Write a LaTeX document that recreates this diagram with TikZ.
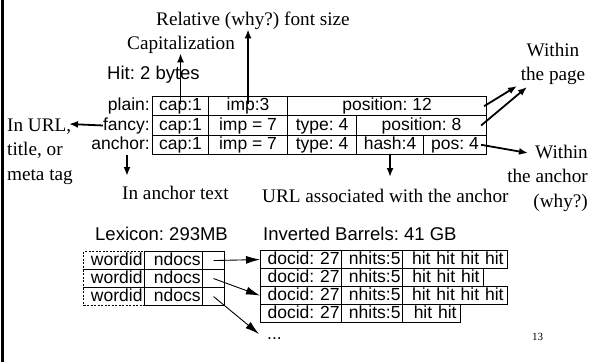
\documentclass[tikz,border=0pt]{standalone}
\usepackage{fontspec}
\setmainfont{Liberation Serif}
\setsansfont{Liberation Sans}
\usetikzlibrary{arrows.meta}
\frenchspacing
\newcommand{\annfont}{\rmfamily\fontsize{19.2}{24.5}\selectfont}
\newcommand{\boxfont}{\sffamily\fontsize{17.5}{20}\selectfont}
\newcommand{\headfont}{\sffamily\fontsize{18.5}{22}\selectfont}
\begin{document}
\begin{tikzpicture}[x=1pt,y=-1pt,
  ann/.style={font=\annfont, inner sep=0pt},
  head/.style={font=\headfont, inner sep=0pt, anchor=base west},
  lab/.style={font=\boxfont, inner sep=0pt, anchor=base east},
  cell/.style={draw, line width=1.1pt, font=\boxfont, inner sep=0pt,
    text height=12.6pt, text depth=3.6pt, anchor=north west},
  hcell/.style={cell, minimum height=19.3pt},
  lcell/.style={cell, minimum height=18pt, inner xsep=2pt, align=right},
  hitcell/.style={lcell, inner xsep=4pt},
  dcell/.style={lcell, dash pattern=on 2pt off 1.5pt},
  harrow/.style={line width=1.8pt, -{Latex[length=9pt,width=7pt]}},
  parrow/.style={line width=0.9pt, -{Latex[length=14pt,width=8pt]}},
]
\useasboundingbox (0,0) rectangle (590,362);
\fill[white] (0,0) rectangle (590,362);
% slide edge
\fill[black] (1,0) rectangle (4,362);

% ---- hit formats ----
\node[head] (hitT) at (107,79) {Hit: 2 bytes};

\node[hcell, minimum width=56pt]  (capP) at (152,96) {cap:1};
\node[hcell, minimum width=79pt]  (impP) at (208,96) {imp:3};
\node[hcell, minimum width=199pt] (posP) at (287,96) {position: 12};

\node[hcell, minimum width=56pt]  (capF)  at (152,115.3) {cap:1};
\node[hcell, minimum width=79pt]  (impF)  at (208,115.3) {imp = 7};
\node[hcell, minimum width=69pt]  (typeF) at (287,115.3) {type: 4};
\node[hcell, minimum width=130pt] (posF)  at (356,115.3) {position: 8};

\node[hcell, minimum width=56pt] (capA)  at (152,134.6) {cap:1};
\node[hcell, minimum width=79pt] (impA)  at (208,134.6) {imp = 7};
\node[hcell, minimum width=69pt] (typeA) at (287,134.6) {type: 4};
\node[hcell, minimum width=67pt] (hashA) at (356,134.6) {hash:4};
\node[hcell, minimum width=63pt] (posA)  at (423,134.6) {pos: 4};

\node[lab] (plainL)  at ([xshift=-2pt]capP.base west) {plain:};
\node[lab] (fancyL)  at ([xshift=-2pt]capF.base west) {fancy:};
\node[lab] (anchorL) at ([xshift=-2pt]capA.base west) {anchor:};

% ---- annotations (multi-line nodes sit on their last baseline) ----
\node[ann, anchor=base west] (relT) at (156,25) {Relative (why?) font size};
\node[ann, anchor=base west] (capT) at (127,49) {Capitalization};
\node[ann, anchor=base west, align=left] (urlT) at (7,180) {In URL,\\title, or\\meta tag};
\node[ann, anchor=base west] (ancT) at (122,199) {In anchor text};
\node[ann, anchor=base west] (assocT) at (262,202) {URL associated with the anchor};
\node[ann, anchor=base, align=center] (pageT) at (553,80.5) {Within\\the page};
\node[ann, anchor=base east, align=right] (withinT) at (588,207) {Within\\the anchor\\(why?)};

\coordinate (urlTip)  at (69,124);
\coordinate (ancFrom) at (127,155);
\coordinate (ancTip)  at (127,176);
\coordinate (pgTip1)  at (517,86);
\coordinate (pgTip2)  at (527,87);
\coordinate (wTip)    at (528,153);

\draw[harrow, shorten <=2.5pt] (capP.center) -- (capP.center |- capT.south);
\draw[harrow, shorten <=2.5pt] (impP.center) -- (impP.center |- relT.south);
\draw[harrow] (fancyL.west) -- (urlTip);
\draw[harrow] (ancFrom) -- (ancTip);
\draw[harrow] (hashA.south) -- ++(0,22);
\draw[harrow] ([xshift=-3pt]posP.east) -- (pgTip1);
\draw[harrow] ([xshift=-6pt]posF.east) -- (pgTip2);
\draw[harrow] ([xshift=-6pt]posA.east) -- (wTip);

% ---- lexicon ----
\node[head] (lexT) at (95,240) {Lexicon: 293MB};
\node[dcell, text width=57pt] (w1) at (83,251) {wordid};
\node[dcell, text width=57pt] (w2) at (83,269) {wordid};
\node[dcell, text width=57pt] (w3) at (83,287) {wordid};
\node[lcell, text width=54pt] (n1) at (144,251) {ndocs};
\node[lcell, text width=54pt] (n2) at (144,269) {ndocs};
\node[lcell, text width=54pt] (n3) at (144,287) {ndocs};
\node[lcell, minimum width=22pt] (p1) at (202,251) {};
\node[lcell, minimum width=22pt] (p2) at (202,269) {};
\node[lcell, minimum width=22pt] (p3) at (202,287) {};

% ---- inverted barrels ----
\node[head] (invT) at (263,240) {Inverted Barrels: 41 GB};
\node[lcell, text width=77pt] (d1) at (260,250) {docid: 27};
\node[lcell, text width=57pt] (h1) at (341,250) {nhits:5};
\node[hitcell, text width=97pt] (t1) at (402,250) {hit hit hit hit};
\node[lcell, text width=77pt] (d2) at (260,268) {docid: 27};
\node[lcell, text width=57pt] (h2) at (341,268) {nhits:5};
\node[hitcell, text width=73pt] (t2) at (402,268) {hit hit hit};
\node[lcell, text width=77pt] (d3) at (260,286) {docid: 27};
\node[lcell, text width=57pt] (h3) at (341,286) {nhits:5};
\node[hitcell, text width=97pt] (t3) at (402,286) {hit hit hit hit};
\node[lcell, text width=77pt] (d4) at (260,304) {docid: 27};
\node[lcell, text width=57pt] (h4) at (341,304) {nhits:5};
\node[hitcell, text width=50pt] (t4) at (402,304) {hit hit};
\node[font=\boxfont, inner sep=0pt, anchor=base west] (dots) at (267,339) {...};
\coordinate (dotsTip) at (259,334);

\draw[parrow] (p1.center) -- (d1.west);
\draw[parrow] (p2.center) -- (d3.west);
\draw[parrow] (p3.center) -- (dotsTip);

\node[font=\rmfamily\fontsize{11}{13}\selectfont, inner sep=0pt, anchor=base west] (pgno) at (532,340) {13};
\end{tikzpicture}
\end{document}
